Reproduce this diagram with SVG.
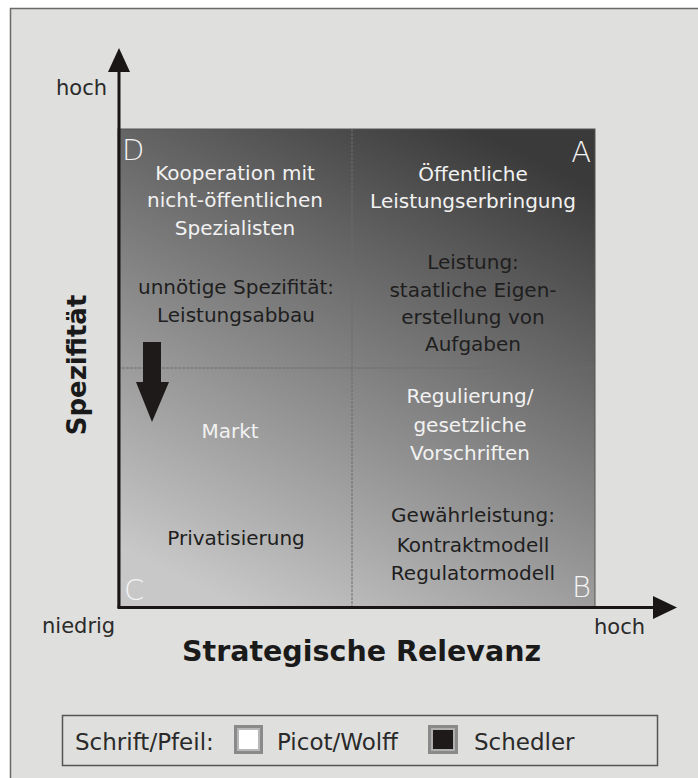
<svg xmlns="http://www.w3.org/2000/svg" width="698" height="778" viewBox="0 0 698 778">
<defs>
<linearGradient id="qg" x1="0.75" y1="0" x2="0.25" y2="1">
<stop offset="0" stop-color="#3b3a3a"/>
<stop offset="1" stop-color="#c8c8c8"/>
</linearGradient>
<style>
.t{font-family:"DejaVu Sans","Liberation Sans",sans-serif;font-size:20px;text-anchor:middle}
.w{fill:#f2f2f2}
.d{fill:#1e1e1e}
.ax{font-family:"DejaVu Sans","Liberation Sans",sans-serif;font-size:21px;fill:#2a2a2a}
.lt{font-family:"DejaVu Sans","Liberation Sans",sans-serif;font-size:23px;fill:#2a2a2a}
.cl{font-family:"DejaVu Sans","Liberation Sans",sans-serif;font-size:29px;font-weight:200;fill:#f4f4f4}
.bt{font-family:"DejaVu Sans","Liberation Sans",sans-serif;font-weight:bold;fill:#1a1a1a;text-anchor:middle}
</style>
</defs>
<rect width="698" height="778" fill="#ffffff"/>
<rect x="10.5" y="8.5" width="700" height="800" fill="#dfdfdd" stroke="#6a6a6a" stroke-width="1.5"/>

<g id="matrix">
<rect x="118" y="129" width="477" height="478" fill="url(#qg)" stroke="#555" stroke-width="1"/>
<line x1="352" y1="129" x2="352" y2="607" stroke="#6c6c6c" stroke-width="1" stroke-dasharray="3 1"/>
<line x1="118" y1="368" x2="595" y2="368" stroke="#6c6c6c" stroke-width="1" stroke-dasharray="3 1"/>
</g>

<g id="quadrant-D">
<text class="cl" x="122" y="160">D</text>
<text class="t w" x="235" y="180">Kooperation mit</text>
<text class="t w" x="235" y="207">nicht-öffentlichen</text>
<text class="t w" x="235" y="235">Spezialisten</text>
<text class="t d" x="236" y="294">unnötige Spezifität:</text>
<text class="t d" x="236" y="322">Leistungsabbau</text>
</g>

<g id="quadrant-A">
<text class="cl" x="591" y="162" text-anchor="end">A</text>
<text class="t w" x="473" y="181">Öffentliche</text>
<text class="t w" x="473" y="208">Leistungserbringung</text>
<text class="t d" x="473" y="269">Leistung:</text>
<text class="t d" x="473" y="297">staatliche Eigen-</text>
<text class="t d" x="473" y="324">erstellung von</text>
<text class="t d" x="473" y="351">Aufgaben</text>
</g>

<g id="quadrant-C">
<text class="cl" x="124" y="600">C</text>
<text class="t w" x="230" y="438">Markt</text>
<text class="t d" x="236" y="545">Privatisierung</text>
</g>

<g id="quadrant-B">
<text class="cl" x="591" y="597" text-anchor="end">B</text>
<text class="t w" x="470" y="403">Regulierung/</text>
<text class="t w" x="470" y="432">gesetzliche</text>
<text class="t w" x="470" y="460">Vorschriften</text>
<text class="t d" x="473" y="522">Gewährleistung:</text>
<text class="t d" x="473" y="552">Kontraktmodell</text>
<text class="t d" x="473" y="580">Regulatormodell</text>
</g>

<g id="connectors">
<line x1="119" y1="608" x2="119" y2="70" stroke="#1a1616" stroke-width="3"/>
<polygon points="119,48 108,72 130,72" fill="#1a1616"/>
<line x1="117.5" y1="607.5" x2="656" y2="607.5" stroke="#1a1616" stroke-width="3"/>
<polygon points="677,607.5 653,596 653,619" fill="#1a1616"/>
<polygon points="143,342 161,342 161,382 169,382 152,422 136,382 143,382" fill="#1e1a1a"/>
</g>

<g id="axis-labels">
<text class="ax" x="56" y="95">hoch</text>
<text class="ax" x="42" y="633">niedrig</text>
<text class="ax" x="594" y="634">hoch</text>
<text class="bt" x="361.5" y="661" font-size="28.5">Strategische Relevanz</text>
<text class="bt" font-size="26" transform="translate(86,365) rotate(-90)">Spezifität</text>
</g>

<g id="legend">
<rect x="62.5" y="715.5" width="595" height="50" fill="none" stroke="#555" stroke-width="1.5"/>
<text class="lt" x="75" y="750">Schrift/Pfeil:</text>
<rect x="234" y="725" width="29" height="29" fill="#8a8a8a"/>
<rect x="237" y="728" width="23" height="23" fill="#b8b8b8"/>
<rect x="239" y="730" width="19" height="19" fill="#ffffff"/>
<text class="lt" x="277" y="750">Picot/Wolff</text>
<rect x="428" y="725" width="30" height="29" fill="#8a8a8a"/>
<rect x="431" y="728" width="24" height="23" fill="#b0b0b0"/>
<rect x="433" y="730" width="20" height="19" fill="#1e1a1a"/>
<text class="lt" x="474" y="750">Schedler</text>
</g>
</svg>
